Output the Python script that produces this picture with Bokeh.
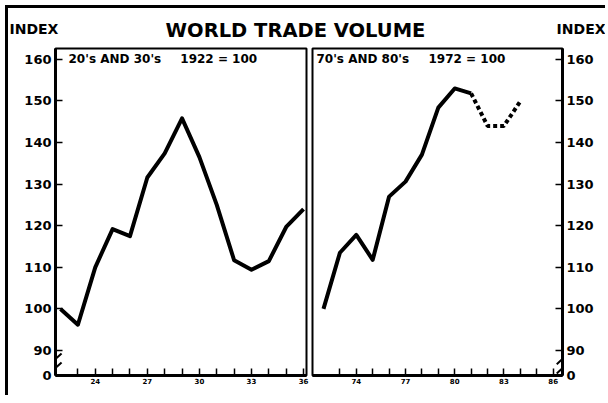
from bokeh.plotting import figure
from bokeh.models import Range1d, FixedTicker, Label, LinearAxis, Arrow
from bokeh.layouts import column, row
from bokeh.embed import file_html
from bokeh.resources import INLINE

# ---------------- data ----------------
years_20s = [1922, 1923, 1924, 1925, 1926, 1927, 1928, 1929, 1930, 1931, 1932, 1933, 1934, 1935, 1936]
index_20s = [100, 96.2, 110, 119.2, 117.5, 131.6, 137.4, 145.8, 136.5, 125, 111.7, 109.4, 111.5, 119.7, 124]

years_70s = [1972, 1973, 1974, 1975, 1976, 1977, 1978, 1979, 1980, 1981]
index_70s = [100, 113.5, 117.8, 111.8, 127, 130.6, 137.1, 148.4, 153, 151.8]
years_80s_est = [1981, 1982, 1983, 1984]
index_80s_est = [151.8, 144, 144, 149.9]

y_ticks = [90, 100, 110, 120, 130, 140, 150, 160]
y_zero = 84  # axis break: bottom of the scale is labelled 0
left_year_ticks = list(range(1923, 1937))
left_year_labels = {1924: "24", 1927: "27", 1930: "30", 1933: "33", 1936: "36"}
right_year_ticks = list(range(1973, 1987))
right_year_labels = {1974: "74", 1977: "77", 1980: "80", 1983: "83", 1986: "86"}

FONT = "DejaVu Sans"
Y_RANGE = (y_zero, 162.6)
L_RANGE = (1921.71, 1936.17)
R_RANGE = (1971.33, 1986.57)


def style_axis(ax):
    ax.axis_line_width = 3
    ax.axis_line_color = "black"
    ax.major_tick_line_width = 1.5
    ax.major_tick_line_color = "black"
    ax.major_tick_in = 7
    ax.major_tick_out = 0
    ax.minor_tick_line_color = None
    ax.major_label_text_font = FONT
    ax.major_label_text_font_style = "bold"
    ax.major_label_text_color = "black"


def y_axis(ax):
    style_axis(ax)
    ax.ticker = FixedTicker(ticks=[y_zero] + y_ticks)
    ov = {t: str(t) for t in y_ticks}
    ov[y_zero] = "0"
    ax.major_label_overrides = ov
    ax.major_label_text_font_size = "13px"
    ax.major_label_standoff = 4


def x_axis(ax, ticks, labels):
    style_axis(ax)
    ax.ticker = FixedTicker(ticks=ticks)
    ax.major_label_overrides = {t: labels.get(t, "") for t in ticks}
    ax.major_label_text_font_size = "7px"
    ax.major_label_standoff = 2


def label(p, x, y, text, size, align="left"):
    p.add_layout(Label(x=x, y=y, text=text, text_font=FONT, text_font_style="bold",
                       text_font_size=size, text_color="black",
                       text_baseline="middle", text_align=align))


def axis_break(p, x, dx):
    # two short parallel slashes marking the broken value axis
    for yc in (88.0, 85.8):
        p.add_layout(Arrow(end=None, x_start=x - dx, y_start=yc - 1.3, x_end=x + dx, y_end=yc + 1.3,
                           line_width=2, line_color="black"))


# ---------------- header ----------------
header = figure(width=597, height=38, x_range=Range1d(0, 597), y_range=Range1d(0, 38),
                output_backend="svg", toolbar_location=None, min_border=0)
header.axis.visible = False
header.grid.visible = False
header.outline_line_color = None
label(header, 1, 18, "INDEX", "14px")
label(header, 287, 16, "WORLD TRADE VOLUME", "19.5px", "center")
label(header, 597, 18, "INDEX", "14px", "right")

# ---------------- left panel ----------------
left = figure(width=301, height=349, x_range=Range1d(*L_RANGE), y_range=Range1d(*Y_RANGE),
              output_backend="svg", toolbar_location=None, x_axis_location=None, y_axis_location=None,
              min_border_left=47, min_border_right=3, min_border_top=2, min_border_bottom=20)
left.grid.visible = False
left.outline_line_color = "black"
left.outline_line_width = 2
lax = LinearAxis()
y_axis(lax)
left.add_layout(lax, "left")
bax = LinearAxis()
x_axis(bax, left_year_ticks, left_year_labels)
left.add_layout(bax, "below")
left.line(years_20s, index_20s, line_width=4, line_color="black", line_join="round")
label(left, 1922.46, 160, "20's AND 30's", "12px")
label(left, 1928.9, 160, "1922 = 100", "12px")
axis_break(left, L_RANGE[0], 0.35)

# ---------------- right panel ----------------
right = figure(width=296, height=349, x_range=Range1d(*R_RANGE), y_range=Range1d(*Y_RANGE),
               output_backend="svg", toolbar_location=None, x_axis_location=None, y_axis_location=None,
               min_border_left=3, min_border_right=43, min_border_top=2, min_border_bottom=20)
right.grid.visible = False
right.outline_line_color = "black"
right.outline_line_width = 2
rax = LinearAxis()
y_axis(rax)
right.add_layout(rax, "right")
bax2 = LinearAxis()
x_axis(bax2, right_year_ticks, right_year_labels)
right.add_layout(bax2, "below")
right.line(years_70s, index_70s, line_width=4, line_color="black", line_join="round")
right.line(years_80s_est, index_80s_est, line_width=4, line_color="black", line_dash="4 3")
label(right, 1971.57, 160, "70's AND 80's", "12px")
label(right, 1978.4, 160, "1972 = 100", "12px")
axis_break(right, R_RANGE[1], 0.35)

layout = column(header, row(left, right),
                styles={"border-left": "3px solid black", "border-top": "3px solid black",
                        "margin-left": "5px", "margin-top": "5px"})

open("out.html", "w").write(file_html(layout, INLINE))
